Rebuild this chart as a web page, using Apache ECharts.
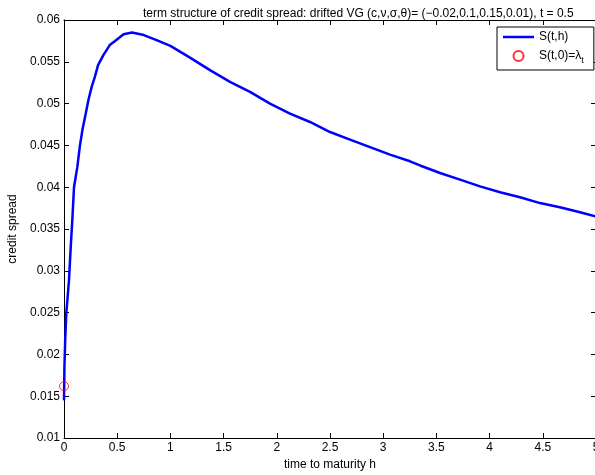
<!DOCTYPE html>
<html>
<head>
<meta charset="utf-8">
<script src="https://cdn.jsdelivr.net/npm/echarts@6/dist/echarts.min.js"></script>
<style>html,body{margin:0;padding:0;background:#fff}#c{width:595px;height:475px}</style>
</head>
<body>
<div id="c"></div>
<script>
// time to maturity h
var hValues = [0, 0.004, 0.012, 0.022, 0.035, 0.047, 0.063, 0.08, 0.094, 0.125, 0.15, 0.175, 0.204, 0.229, 0.26, 0.29, 0.32, 0.37, 0.43, 0.48, 0.56, 0.64, 0.75, 0.87, 1.0, 1.184, 1.372, 1.56, 1.748, 1.936, 2.124, 2.312, 2.5, 2.688, 2.876, 3.064, 3.252, 3.346, 3.534, 3.722, 3.91, 4.098, 4.286, 4.474, 4.66, 4.85, 5.0];
// credit spread S(t,h)
var spreadValues = [0.0145, 0.0185, 0.022, 0.025, 0.027, 0.0289, 0.0328, 0.0365, 0.0400, 0.0424, 0.045, 0.047, 0.0488, 0.0504, 0.052, 0.0532, 0.0546, 0.0558, 0.0570, 0.0575, 0.0583, 0.0585, 0.0582, 0.0576, 0.0569, 0.0555, 0.0540, 0.0526, 0.0514, 0.0500, 0.0488, 0.0478, 0.0466, 0.0457, 0.0448, 0.0439, 0.0431, 0.0426, 0.0417, 0.0409, 0.0401, 0.0394, 0.0388, 0.0381, 0.0376, 0.0370, 0.0365];
// S(t,0) = lambda_t
var lambdaPoint = [0, 0.0162];
var seriesNames = ['S(t,h)', 'S(t,0)=λt'];
var xTicks = {min: 0, max: 5, interval: 0.5};
var yTicks = {min: 0.01, max: 0.06, interval: 0.005};

var lineData = hValues.map(function (h, i) { return [h, spreadValues[i]]; });
var font = 'Liberation Sans, Arial, Helvetica, sans-serif';
var fmtY = function (v) { return String(parseFloat(v.toFixed(4))); };
var fmtX = function (v) { return String(parseFloat(v.toFixed(2))); };

var baseAxis = {
  axisLine: {show: true, onZero: false, lineStyle: {color: '#000', width: 1}},
  axisTick: {show: true, inside: true, length: 5, lineStyle: {color: '#000', width: 1}},
  splitLine: {show: false}
};

var chart = echarts.init(document.getElementById('c'), null, {renderer: 'canvas'});
chart.setOption({
  animation: false,
  backgroundColor: '#fff',
  title: {
    text: 'term structure of credit spread: drifted VG (c,ν,σ,θ)= (−0.02,0.1,0.15,0.01), t = 0.5',
    left: 138, top: 3,
    textStyle: {fontFamily: font, fontSize: 12, fontWeight: 'normal', color: '#000'}
  },
  grid: {left: 64, top: 20, width: 532, height: 418, containLabel: false, outerBoundsMode: 'none'},
  legend: {
    orient: 'vertical',
    left: 497, top: 27,
    padding: [4, 10, 5, 6],
    itemGap: 7,
    itemWidth: 31,
    itemHeight: 10,
    backgroundColor: '#fff',
    borderColor: '#000',
    borderWidth: 1,
    borderRadius: 0,
    data: [
      {name: seriesNames[0], icon: 'path://M0,0 L31,0 L31,2.5 L0,2.5 Z', itemStyle: {color: '#0000ff'}},
      {name: seriesNames[1]}
    ],
    formatter: function (n) { return n === seriesNames[1] ? 'S(t,0)=λ{sub|t}' : n; },
    textStyle: {fontFamily: font, fontSize: 12, color: '#000',
      rich: {sub: {fontFamily: font, fontSize: 9, verticalAlign: 'bottom', padding: [9, 0, 0, 0]}}}
  },
  xAxis: [
    Object.assign({}, baseAxis, {
      type: 'value', position: 'bottom', min: xTicks.min, max: xTicks.max, interval: xTicks.interval,
      name: 'time to maturity h', nameLocation: 'middle', nameGap: 21,
      nameTextStyle: {fontFamily: font, fontSize: 12, color: '#000'},
      axisLabel: {show: true, margin: 4, formatter: fmtX, fontFamily: font, fontSize: 12, color: '#000'}
    }),
    Object.assign({}, baseAxis, {
      type: 'value', position: 'top', min: xTicks.min, max: xTicks.max, interval: xTicks.interval,
      axisLabel: {show: false}
    })
  ],
  yAxis: [
    Object.assign({}, baseAxis, {
      type: 'value', position: 'left', min: yTicks.min, max: yTicks.max, interval: yTicks.interval,
      name: 'credit spread', nameLocation: 'middle', nameGap: 39,
      nameTextStyle: {fontFamily: font, fontSize: 12, color: '#000'},
      axisLabel: {show: true, margin: 4, formatter: fmtY, fontFamily: font, fontSize: 12, color: '#000'}
    }),
    Object.assign({}, baseAxis, {
      type: 'value', position: 'right', min: yTicks.min, max: yTicks.max, interval: yTicks.interval,
      axisLabel: {show: false}
    })
  ],
  series: [
    {
      name: seriesNames[0], type: 'line', xAxisIndex: 0, yAxisIndex: 0,
      data: lineData, showSymbol: false, symbol: 'none', smooth: false,
      lineStyle: {color: '#0000ff', width: 2.5}, itemStyle: {color: '#0000ff'}, z: 3
    },
    {
      name: seriesNames[1], type: 'scatter', xAxisIndex: 0, yAxisIndex: 0,
      data: [lambdaPoint], symbol: 'circle', symbolSize: 9,
      itemStyle: {color: 'rgba(0,0,0,0)', borderColor: '#ff0000', borderWidth: 1}, z: 4, clip: false
    }
  ]
});
</script>
</body>
</html>
